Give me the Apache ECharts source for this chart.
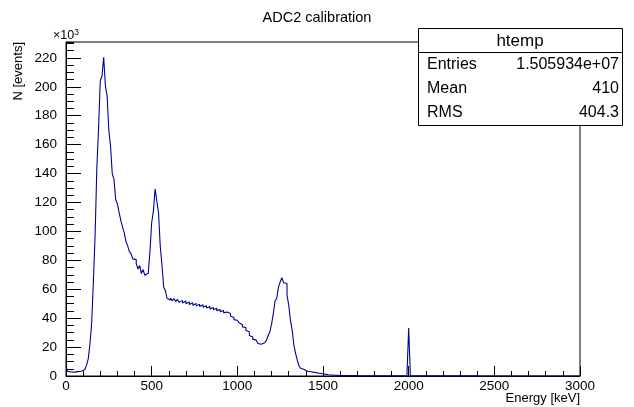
<!DOCTYPE html>
<html><head><meta charset="utf-8">
<script src="https://cdn.jsdelivr.net/npm/echarts@6/dist/echarts.min.js"></script>
<style>html,body{margin:0;padding:0;background:#fff}#c{width:634px;height:407px}</style>
</head><body><div id="c"></div><script>
// ---- data ----
const chartTitle = 'ADC2 calibration';
const xTitle = 'Energy [keV]';
const yTitle = 'N [events]';
const yScaleNote = '10';
const binStart = 0;      // keV, low edge of first bin
const binWidth = 10;     // keV
// counts per bin, in units of 10^3 events
const counts = [
  6.5, 3.2, 2.8, 2.6, 2.7, 2.8, 3.0, 3.5, 3.3, 4.2,
  4.5, 5.0, 7.5, 12, 22.5, 37, 66, 98, 144, 171,
  204, 207.6, 220.5, 200.7, 193.8, 169.7, 159, 140, 136, 122,
  119, 113, 107.6, 103, 99, 93, 90, 86, 84.5, 81,
  80.5, 77.7, 74, 76.5, 70.8, 73.6, 69.7, 71, 70.3, 86,
  106, 114, 129.4, 121, 113, 90, 77, 61.6, 59, 53.6,
  52.5, 54, 52, 53.5, 51.5, 53, 51, 52.3, 50.5, 51.8,
  50, 51.2, 49.5, 50.7, 49, 50.2, 48.5, 49.6, 48, 49.2,
  47.5, 48.6, 47, 48, 46.4, 47.4, 45.8, 46.8, 45.2, 46,
  44.5, 45.3, 43.8, 44.2, 43, 43.3, 41.5, 40.5, 39, 38.6,
  37.5, 36.8, 35.5, 34, 33.5, 31.5, 30.6, 28, 27, 25.5,
  24.8, 23.7, 22.5, 22, 22.5, 23, 24, 24.8, 28, 30.6,
  36, 43, 52, 53.6, 61.6, 65, 68, 64.5, 64, 56,
  49, 38.6, 31.7, 21.4, 15.7, 11, 6.9, 5.3, 4.5, 3.7,
  3.3, 3.1, 2.9, 2.7, 2.5, 2.3, 2.1, 1.9, 1.7, 1.5,
  1.3, 1.1, 0.9, 0.8, 0.7, 0.6, 0.5, 0.45, 0.4, 0.4,
  0.35, 0.35, 0.3, 0.3, 0.3, 0.3, 0.25, 0.25, 0.25, 0.25,
  0.22, 0.22, 0.2, 0.2, 0.2, 0.2, 0.2, 0.18, 0.18, 0.18,
  0.18, 0.17, 0.17, 0.17, 0.16, 0.16, 0.16, 0.15, 0.15, 0.15,
  0.15, 0.15, 0.14, 0.14, 0.14, 0.14, 0.13, 0.13, 0.13, 0.2,
  33.2, 0.15, 0.12, 0.12, 0.12, 0.11, 0.11, 0.11, 0.1, 0.1,
  0.1, 0.1, 0.1, 0.09, 0.09, 0.09, 0.09, 0.09, 0.08, 0.08,
  0.08, 0.08, 0.08, 0.08, 0.07, 0.07, 0.07, 0.07, 0.07, 0.07,
  0.07, 0.06, 0.06, 0.06, 0.06, 0.06, 0.06, 0.06, 0.06, 0.05,
  0.05, 0.05, 0.05, 0.05, 0.05, 0.05, 0.05, 0.05, 0.05, 0.05,
  0.05, 0.05, 0.04, 0.04, 0.04, 0.04, 0.04, 0.04, 0.04, 0.04,
  0.04, 0.04, 0.04, 0.04, 0.04, 0.04, 0.04, 0.03, 0.03, 0.03,
  0.03, 0.03, 0.03, 0.03, 0.03, 0.03, 0.03, 0.03, 0.03, 0.03,
  0.03, 0.03, 0.03, 0.03, 0.03, 0.03, 0.03, 0.03, 0.03, 0.03,
  0.03, 0.03, 0.03, 0.03, 0.03, 0.03, 0.03, 0.03, 0.03, 0.03
];
const statsName = 'htemp';
const statsLabels = ['Entries', 'Mean', 'RMS'];
const statsValues = ['1.505934e+07', '410', '404.3'];
const xRange = [0, 3000];
const yRange = [0, 231];
const xMajor = 500, xMinor = 100, yMajor = 20, yMinor = 5;

// ---- build ----
const FONT = '"Liberation Sans", Arial, Helvetica, sans-serif';
const lineData = counts.map((v, i) => [binStart + i * binWidth, v]);
lineData.push([binStart + counts.length * binWidth, counts[counts.length - 1]]);

const G = { left: 66, right: 54, top: 42, bottom: 31 };
const plotL = G.left, plotR = 634 - G.right, plotT = G.top, plotB = 407 - G.bottom;

const chart = echarts.init(document.getElementById('c'), null, { renderer: 'canvas' });

const statsX = 418, statsY = 28, statsW = 204, titleH = 24, rowH = 24.3;
const statsH = titleH + rowH * 3;
const statsChildren = [
  { type: 'rect', shape: { x: statsX + 0.5, y: statsY + 0.5, width: statsW, height: Math.round(statsH) },
    style: { fill: '#fff', stroke: '#000', lineWidth: 1 } },
  { type: 'line', shape: { x1: statsX + 0.5, y1: statsY + titleH + 0.5, x2: statsX + statsW + 0.5, y2: statsY + titleH + 0.5 },
    style: { stroke: '#000', lineWidth: 1 } },
  { type: 'text', style: { text: statsName, x: statsX + statsW / 2, y: statsY + titleH / 2 + 1, align: 'center', verticalAlign: 'middle',
    font: '17px ' + FONT, fill: '#000' } }
];
statsLabels.forEach((lab, i) => {
  const cy = statsY + titleH + rowH / 2 + i * rowH;
  statsChildren.push({ type: 'text', style: { text: lab, x: statsX + 9, y: cy, align: 'left', verticalAlign: 'middle', font: '16px ' + FONT, fill: '#000' } });
  statsChildren.push({ type: 'text', style: { text: statsValues[i], x: statsX + statsW - 3, y: cy, align: 'right', verticalAlign: 'middle', font: '16px ' + FONT, fill: '#000' } });
});

const plain = v => String(v);

const option = {
  backgroundColor: '#fff',
  animation: false,
  grid: [
    Object.assign({ show: true, borderColor: '#000', borderWidth: 1, backgroundColor: 'transparent', containLabel: false }, G),
    Object.assign({ show: false, containLabel: false }, G)
  ],
  xAxis: [
    { type: 'value', gridIndex: 0, min: xRange[0], max: xRange[1], interval: xMajor,
      axisLine: { show: true, lineStyle: { color: '#000', width: 1 } },
      axisTick: { show: true, inside: true, length: 10, lineStyle: { color: '#000' } },
      axisLabel: { show: true, color: '#000', fontSize: 13.5, fontFamily: FONT, margin: 3, formatter: plain },
      splitLine: { show: false } },
    { type: 'value', gridIndex: 1, min: xRange[0], max: xRange[1], interval: xMinor,
      axisLine: { show: false },
      axisTick: { show: true, inside: true, length: 5, lineStyle: { color: '#000' } },
      axisLabel: { show: false }, splitLine: { show: false } }
  ],
  yAxis: [
    { type: 'value', gridIndex: 0, min: yRange[0], max: yRange[1], interval: yMajor,
      axisLine: { show: true, lineStyle: { color: '#000', width: 1 } },
      axisTick: { show: true, inside: true, length: 15, lineStyle: { color: '#000' } },
      axisLabel: { show: true, color: '#000', fontSize: 13.5, fontFamily: FONT, margin: 9, showMaxLabel: false, formatter: plain },
      splitLine: { show: false } },
    { type: 'value', gridIndex: 1, min: yRange[0], max: yRange[1], interval: yMinor,
      axisLine: { show: false },
      axisTick: { show: true, inside: true, length: 8, lineStyle: { color: '#000' } },
      axisLabel: { show: false }, splitLine: { show: false } }
  ],
  series: [{
    type: 'line', xAxisIndex: 0, yAxisIndex: 0, step: 'end', data: lineData,
    showSymbol: false, symbol: 'none', z: 5, sampling: null,
    lineStyle: { color: '#00009e', width: 1.1 }
  }],
  graphic: [
    { type: 'text', z: 50, style: { text: chartTitle, x: 317, y: 18, align: 'center', verticalAlign: 'middle', font: '14.5px ' + FONT, fill: '#000' } },
    { type: 'text', z: 50, rotation: Math.PI / 2, x: 18, y: plotT, style: { text: yTitle, x: 0, y: 0, align: 'right', verticalAlign: 'middle', font: '13px ' + FONT, fill: '#000' } },
    { type: 'text', z: 50, style: { text: xTitle, x: plotR, y: 398, align: 'right', verticalAlign: 'middle', font: '13px ' + FONT, fill: '#000' } },
    { type: 'text', z: 50, style: { text: '×' + yScaleNote + '{s|3}', rich: { s: { fontSize: 8.5, verticalAlign: 'top', padding: [0,0,7,0] } }, x: 53, y: 36, align: 'left', verticalAlign: 'middle', font: '12.5px ' + FONT, fill: '#000' } },
    { type: 'group', z: 100, children: statsChildren }
  ]
};
chart.setOption(option);
</script></body></html>
